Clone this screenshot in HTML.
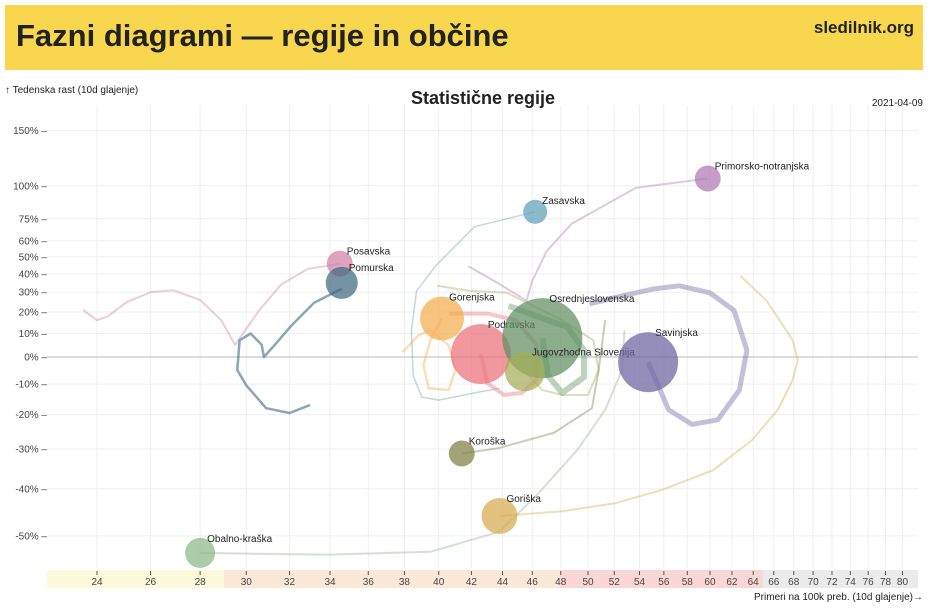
<!DOCTYPE html>
<html><head><meta charset="utf-8">
<style>
html,body{margin:0;padding:0;background:#fff;width:940px;height:614px;overflow:hidden;font-family:"Liberation Sans",sans-serif;}
#hdr{position:absolute;left:5px;top:5px;width:918px;height:65px;background:#f8d64e;}
#title{position:absolute;left:11px;top:13px;font-size:31px;font-weight:bold;color:#222;}
#site{position:absolute;right:9px;top:13px;font-size:17px;font-weight:bold;color:#222;}
svg{position:absolute;left:0;top:0;}
</style></head>
<body>
<div id="hdr">
  <div id="title">Fazni diagrami — regije in občine</div>
  <div id="site">sledilnik.org</div>
</div>
<svg id="chart" width="940" height="614"></svg>
<script>
const xTicks=[24,26,28,30,32,34,36,38,40,42,44,46,48,50,52,54,56,58,60,62,64,66,68,70,72,74,76,78,80];
const yTicks=[150,100,75,60,50,40,30,20,10,0,-10,-20,-30,-40,-50];
const regions=["Posavska","Pomurska","Zasavska","Primorsko-notranjska","Gorenjska","Podravska","Osrednjeslovenska","Jugovzhodna Slovenija","Savinjska","Koroška","Goriška","Obalno-kraška"];
const populations=[58,89,50,58,167,311,555,138,311,58,112,78];
const colors=["#d47fa6","#3f6a80","#5e9fb8","#b077b4","#f2ad4e","#ec7078","#5f8f5f","#a5ad58","#6d62a0","#7f8046","#d6ac4e","#8ab886"];
const trailWidths=[2,2.5,1.5,2,2.5,4,6,2,5,2,2,2];
const casesPosavska=[23.5,24,24.4,25.1,26,26.9,28,28.9,29.5,30.6,31.6,32.9,34.1,34.5];
const growthPosavska=[21,16,18,25,30,31,26,16,5,21,34,43,45,46];
const casesPomurska=[33.0,32,30.9,30.0,29.6,29.7,30.2,30.7,30.8,31.3,32.1,33.2,34.6];
const growthPomurska=[-17,-19.5,-18,-10.4,-5,7,10,5,0,5,13.6,24.6,31.8,35];
const casesZasavska=[43.8,42.2,40.0,39.0,38.5,38.4,38.7,39.8,42.2,46.2];
const growthZasavska=[-11.4,-13,-15.4,-14.4,-7,11.4,30.7,44.5,69.5,80];
const casesPrimorsko=[41.8,43.8,45.6,46.0,47.0,48.8,53.7,59.8];
const growthPrimorsko=[44.5,34.4,25.6,36,53.5,71.6,98.3,106];
const casesGorenjska=[37.9,38.8,39.5,40.6,41.0,40.6,39.4,39.1,39.5,40.2];
const growthGorenjska=[2,9.2,11.4,4.9,-5,-12,-11.4,-3.1,7,16.9];
const casesPodravska=[40.6,43.0,44.9,46.3,46.3,45.3,44.1,43.0,42.7,42.6];
const growthPodravska=[19.2,19.2,16,4.9,-8.5,-13,-13.7,-9.6,-1.2,1.2];
const casesOsrednje=[44.4,46.7,48.5,49.7,49.7,48.1,47.1,46.7];
const growthOsrednje=[23,17,12.8,2.8,-7.5,-13,-7,7.9];
const casesJV=[39.9,41.9,44.3,48.1,50.4,50.8,50.0,48.1,46.7,45.5];
const growthJV=[33.4,30.7,29.7,16,7,-5,-13.7,-13.7,-12,-5.4];
const casesSavinjska=[50.1,52.3,55.2,57.3,60.0,62.2,63.4,62.7,60.7,58.4,56.4,54.7];
const growthSavinjska=[24,27.6,31.8,33.4,29.7,20.7,2.8,-12,-21.6,-23,-18.5,-2];
const casesKoroska=[51.3,50.8,50.3,47.5,43.7,41.4];
const growthKoroska=[16,-5,-18,-25.5,-29.8,-31.2];
const casesGoriska=[62.8,65.3,67.9,68.4,67.9,66.4,63.9,60.3,55.8,52.0,48.1,43.8];
const growthGoriska=[38.8,25.6,7,-1.2,-8.5,-18.5,-27.5,-35.5,-40.3,-43.3,-45,-46];
const casesObalno=[52.8,52.6,51.3,49.2,46.3,43.8,39.5,34.0,31.0,28.0];
const growthObalno=[11.4,-5,-18.5,-30.3,-41.5,-49.2,-53,-53.5,-53.4,-53.2];
const allCases=[casesPosavska,casesPomurska,casesZasavska,casesPrimorsko,casesGorenjska,casesPodravska,casesOsrednje,casesJV,casesSavinjska,casesKoroska,casesGoriska,casesObalno];
const allGrowth=[growthPosavska,growthPomurska,growthZasavska,growthPrimorsko,growthGorenjska,growthPodravska,growthOsrednje,growthJV,growthSavinjska,growthKoroska,growthGoriska,growthObalno];

const NS="http://www.w3.org/2000/svg";
const svg=document.getElementById('chart');
function xs(v){return 97+669*Math.log(v/24);}
function ys(g){const l=Math.log(1+g/100);return 357-(l>=0?247:258)*l;}
function mk(tag,attrs,parent){const e=document.createElementNS(NS,tag);for(const k in attrs)e.setAttribute(k,attrs[k]);(parent||svg).appendChild(e);return e;}

const bands=[[47,224,"#fdfadc"],[224,560,"#fbe9d8"],[560,763,"#fad7d7"],[763,918,"#ebebeb"]];
bands.forEach(b=>{const r=mk('rect',{x:b[0],y:570,width:b[1]-b[0],height:18,fill:b[2]});

});

xTicks.forEach(t=>{const x=xs(t);
const l=mk('line',{x1:x,x2:x,y1:105,y2:568,stroke:"#efefef","stroke-width":1});


const tk=mk('line',{x1:x,x2:x,y1:571,y2:575,stroke:"#555","stroke-width":1});


const tx=mk('text',{x:x,y:585,"text-anchor":"middle","font-size":10,fill:"#444"});
tx.textContent=t;

});
yTicks.forEach(t=>{const y=ys(t);
const l=mk('line',{x1:47,x2:918,y1:y,y2:y,stroke:t===0?"#cfcfcf":"#efefef","stroke-width":t===0?1.5:1});


const tx=mk('text',{x:47,y:y+3.5,"text-anchor":"end","font-size":10,fill:"#444"});
tx.textContent=t+"% –";

});

regions.forEach((n,i)=>{const pts=allCases[i].map((c,j)=>xs(c).toFixed(1)+","+ys(allGrowth[i][j]).toFixed(1)).join(" ");
const p=mk('polyline',{points:pts,fill:"none",stroke:colors[i],"stroke-opacity":i===1?0.6:0.4,"stroke-width":trailWidths[i],"stroke-linejoin":"round"});

});
regions.forEach((n,i)=>{const c=allCases[i],g=allGrowth[i];const cx=xs(c[c.length-1]),cy=ys(g[g.length-1]);const r=1.7*Math.sqrt(populations[i]);
const ci=mk('circle',{cx:cx,cy:cy,r:r,fill:colors[i],"fill-opacity":0.72});


const t=mk('text',{x:cx+7,y:cy-r+4,"font-size":10,fill:"#222"});t.textContent=n;

});

const lab=[[5,93,"↑ Tedenska rast (10d glajenje)","start",10,"normal","y-axis-title"],[483,104,"Statistične regije","middle",18,"bold","chart-title"],[923,106,"2021-04-09","end",10,"normal","date-label"],[923,600,"Primeri na 100k preb. (10d glajenje)→","end",10,"normal","x-axis-title"]];
lab.forEach(l=>{const t=mk('text',{x:l[0],y:l[1],"text-anchor":l[3],"font-size":l[4],"font-weight":l[5],fill:"#222"});t.textContent=l[2];

});
</script>
</body></html>
